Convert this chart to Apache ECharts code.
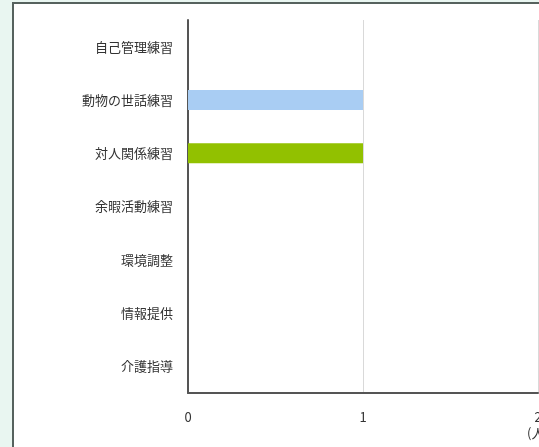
<!DOCTYPE html>
<html>
<head>
<meta charset="utf-8">
<script src="https://cdn.jsdelivr.net/npm/echarts@6/dist/echarts.min.js"></script>
<style>
  html, body { margin: 0; padding: 0; width: 539px; height: 447px; overflow: hidden; background: #e9f6f1; }
  .frame { position: absolute; left: 12px; top: 2px; width: 620px; height: 520px; background: #fff; border: 2px solid #56625e; }
  .chart-dom { position: absolute; left: 0; top: 0; width: 539px; height: 447px; }
</style>
</head>
<body>
<div class="frame"></div>
<div id="chart" class="chart-dom"></div>
<script>
// categories top to bottom
const categories = ['自己管理練習', '動物の世話練習', '対人関係練習', '余暇活動練習', '環境調整', '情報提供', '介護指導']
const animalValues = [0, 1, 0, 0, 0, 0, 0]
const socialValues = [0, 0, 1, 0, 0, 0, 0]
const xTicks = [0, 1, 2]
const unitLabel = '(人)'

const chart = echarts.init(document.getElementById('chart'))
const option = {
  animation: false,
  backgroundColor: 'transparent',
  textStyle: { fontFamily: '"Noto Sans CJK JP", sans-serif' },
  grid: { left: 188, right: 1, top: 20, bottom: 54, containLabel: false, outerBoundsMode: 'none' },
  xAxis: {
    type: 'value',
    min: xTicks[0],
    max: xTicks[xTicks.length - 1],
    interval: 1,
    axisLine: { show: true, lineStyle: { color: '#555', width: 2 } },
    axisTick: { show: false },
    splitLine: { show: true, lineStyle: { color: '#d9d9d9', width: 1 } },
    axisLabel: {
      color: '#333',
      fontSize: 13,
      margin: 16,
      lineHeight: 16,
      formatter: function (v) {
        return v === xTicks[xTicks.length - 1] ? v + '\n' + unitLabel : String(v)
      }
    }
  },
  yAxis: {
    type: 'category',
    inverse: true,
    data: categories,
    axisLine: { show: true, lineStyle: { color: '#555', width: 2 } },
    axisTick: { show: false },
    axisLabel: { color: '#333', fontSize: 13, margin: 15 }
  },
  series: [
    {
      name: '動物の世話練習',
      type: 'bar',
      stack: 'total',
      barWidth: 20,
      data: animalValues,
      itemStyle: { color: '#a9cdf3' }
    },
    {
      name: '対人関係練習',
      type: 'bar',
      stack: 'total',
      barWidth: 20,
      data: socialValues,
      itemStyle: { color: '#92c100' }
    }
  ]
}
chart.setOption(option)
</script>
</body>
</html>
